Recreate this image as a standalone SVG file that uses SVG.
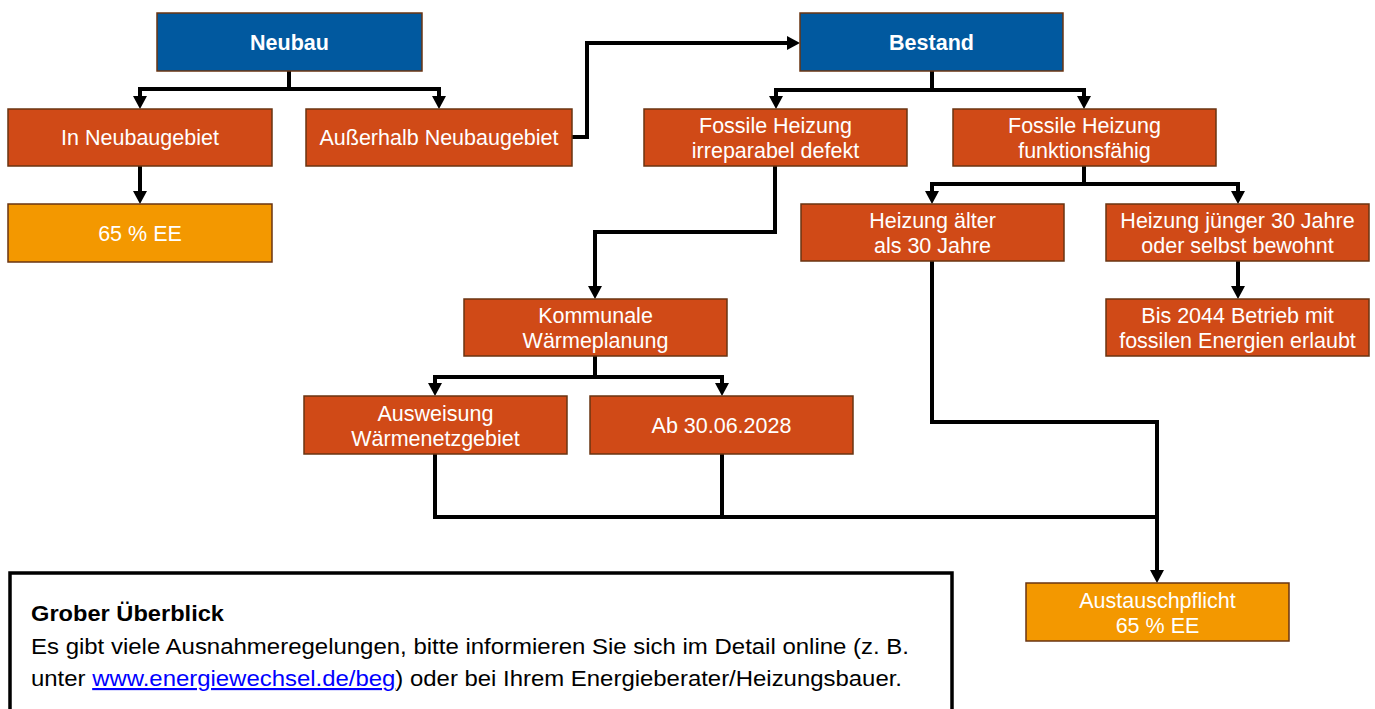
<svg xmlns="http://www.w3.org/2000/svg" width="1375" height="709" viewBox="0 0 1375 709">
<style>
.box rect{stroke:#6a3412;stroke-width:1.5}
.blue rect{fill:#01599f}
.red rect{fill:#d04a17}
.orange rect{fill:#f39800}
.box text{font-family:"Liberation Sans",Arial,sans-serif;font-size:21.5px;fill:#fff;text-anchor:middle}
.blue text{font-weight:bold}
.conn path{fill:none;stroke:#000;stroke-width:4;stroke-linejoin:miter}
.note text{font-family:"Liberation Sans",Arial,sans-serif;font-size:21.5px;fill:#000}
</style>
<defs>
<marker id="arr" markerUnits="userSpaceOnUse" markerWidth="14" markerHeight="14" refX="5" refY="7" orient="auto">
<path d="M0,0 L13,7 L0,14 Z" fill="#000"/>
</marker>
</defs>
<rect width="1375" height="709" fill="#fff"/>
<g id="connectors" class="conn">
<path d="M289,71 V89 H140 V101" marker-end="url(#arr)"/>
<path d="M289,89 H439 V101" marker-end="url(#arr)"/>
<path d="M140,166 V196" marker-end="url(#arr)"/>
<path d="M572,137 H587 V43 H792" marker-end="url(#arr)"/>
<path d="M932,71 V90 H776 V101" marker-end="url(#arr)"/>
<path d="M932,90 H1084 V101" marker-end="url(#arr)"/>
<path d="M775,166 V232 H595 V291" marker-end="url(#arr)"/>
<path d="M595,356 V377 H435 V388" marker-end="url(#arr)"/>
<path d="M595,377 H722 V388" marker-end="url(#arr)"/>
<path d="M1084,166 V184 H932 V196" marker-end="url(#arr)"/>
<path d="M1084,184 H1238 V196" marker-end="url(#arr)"/>
<path d="M1238,261 V291" marker-end="url(#arr)"/>
<path d="M932,261 V422 H1157 V575" marker-end="url(#arr)"/>
<path d="M435,454 V517 H1157"/>
<path d="M722,454 V517"/>
</g>
<g id="neubau" class="box blue"><rect x="157" y="13" width="265" height="58"/><text x="289.5" y="49.5">Neubau</text></g>
<g id="in-neubaugebiet" class="box red"><rect x="8" y="109" width="264" height="57"/><text x="140" y="145">In Neubaugebiet</text></g>
<g id="ausserhalb" class="box red"><rect x="306" y="109" width="266" height="57"/><text x="439" y="145">Außerhalb Neubaugebiet</text></g>
<g id="ee65" class="box orange"><rect x="8" y="204" width="264" height="58"/><text x="140" y="240.5">65 % EE</text></g>
<g id="bestand" class="box blue"><rect x="800" y="13" width="263" height="58"/><text x="931.5" y="49.5">Bestand</text></g>
<g id="fossil-defekt" class="box red"><rect x="644" y="109" width="263" height="57"/><text x="775.5" y="133">Fossile Heizung</text><text x="775.5" y="158">irreparabel defekt</text></g>
<g id="fossil-funktion" class="box red"><rect x="953" y="109" width="263" height="57"/><text x="1084.5" y="133">Fossile Heizung</text><text x="1084.5" y="158">funktionsfähig</text></g>
<g id="aelter" class="box red"><rect x="801" y="204" width="263" height="57"/><text x="932.5" y="228">Heizung älter</text><text x="932.5" y="253">als 30 Jahre</text></g>
<g id="juenger" class="box red"><rect x="1106" y="204" width="263" height="57"/><text x="1237.5" y="228">Heizung jünger 30 Jahre</text><text x="1237.5" y="253">oder selbst bewohnt</text></g>
<g id="bis2044" class="box red"><rect x="1106" y="299" width="263" height="57"/><text x="1237.5" y="323">Bis 2044 Betrieb mit</text><text x="1237.5" y="348">fossilen Energien erlaubt</text></g>
<g id="kommunal" class="box red"><rect x="464" y="299" width="263" height="57"/><text x="595.5" y="323">Kommunale</text><text x="595.5" y="348">Wärmeplanung</text></g>
<g id="ausweisung" class="box red"><rect x="304" y="396" width="263" height="58"/><text x="435.5" y="420.5">Ausweisung</text><text x="435.5" y="445.5">Wärmenetzgebiet</text></g>
<g id="ab2028" class="box red"><rect x="590" y="396" width="263" height="58"/><text x="721.5" y="432.5">Ab 30.06.2028</text></g>
<g id="austausch" class="box orange"><rect x="1026" y="583" width="263" height="58"/><text x="1157.5" y="607.5">Austauschpflicht</text><text x="1157.5" y="632.5">65 % EE</text></g>
<g id="note" class="note">
<rect x="10" y="573" width="942" height="145" fill="#fff" stroke="#000" stroke-width="3.5"/>
<text x="31" y="621" font-weight="bold" textLength="193" lengthAdjust="spacingAndGlyphs">Grober Überblick</text>
<text x="31" y="654" textLength="878" lengthAdjust="spacingAndGlyphs">Es gibt viele Ausnahmeregelungen, bitte informieren Sie sich im Detail online (z. B.</text>
<text x="31" y="686" textLength="871" lengthAdjust="spacingAndGlyphs">unter <tspan fill="#0000ff" text-decoration="underline">www.energiewechsel.de/beg</tspan>) oder bei Ihrem Energieberater/Heizungsbauer.</text>
</g>
</svg>
